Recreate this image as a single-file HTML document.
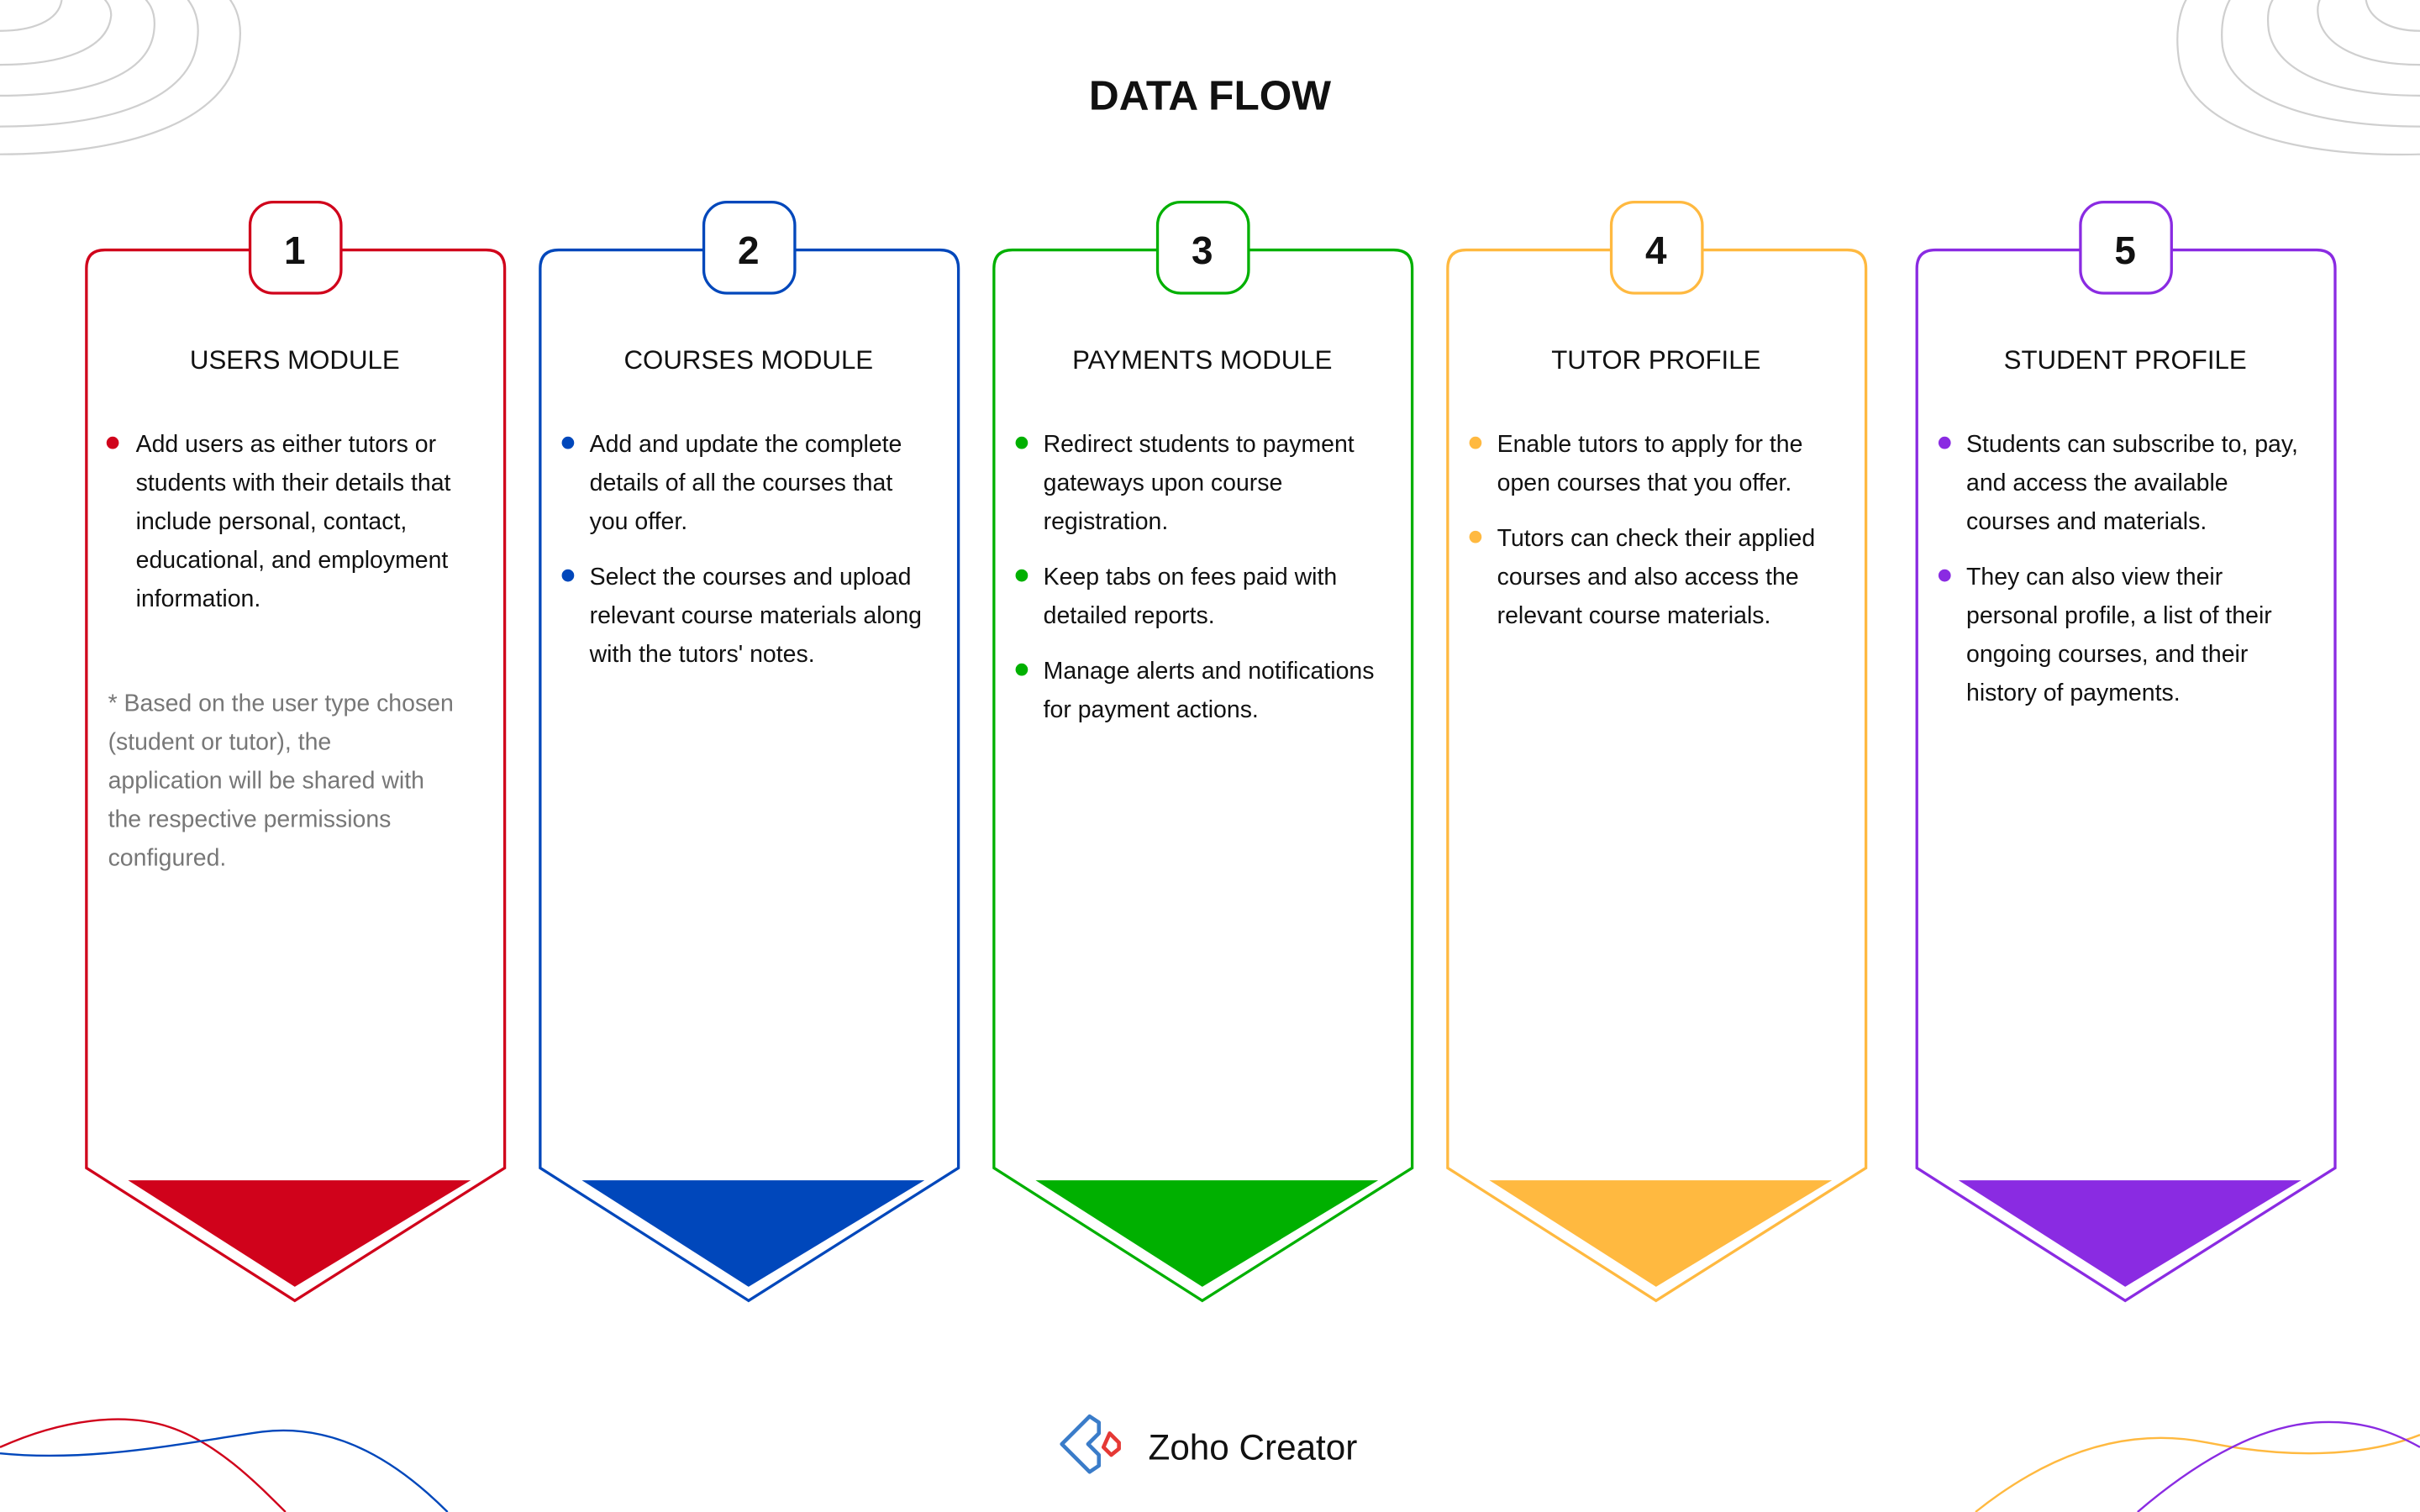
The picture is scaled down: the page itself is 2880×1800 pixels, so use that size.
<!DOCTYPE html>
<html><head><meta charset="utf-8"><style>
html,body{margin:0;padding:0;background:#fff;}
svg{display:block;}
text{font-family:"Liberation Sans",sans-serif;}
</style></head><body>
<svg width="2880" height="1800" viewBox="0 0 1568 980" xmlns="http://www.w3.org/2000/svg">
<rect width="1568" height="980" fill="#fff"/>
<!-- decorative corners -->
<g fill="none" stroke="#cfcfcf" stroke-width="1.2">
<path d="M0 100 C80 100 150 80 155 30 C158 10 150 0 145 -5"/>
<path d="M0 82 C70 82 125 65 128 25 C130 8 122 0 118 -5"/>
<path d="M0 62 C55 62 98 50 100 18 C101 5 95 0 90 -5"/>
<path d="M0 42 C40 42 70 32 72 10 C72 3 68 0 64 -5"/>
<path d="M0 20 C20 20 38 14 40 0"/>
<path d="M1568 100 C1490 102 1420 85 1412 40 C1408 15 1415 0 1420 -5"/>
<path d="M1568 82 C1500 82 1445 65 1440 30 C1438 10 1444 0 1448 -5"/>
<path d="M1568 62 C1515 62 1475 48 1470 20 C1468 5 1472 0 1476 -5"/>
<path d="M1568 42 C1530 42 1505 30 1502 10 C1501 3 1503 0 1505 -5"/>
<path d="M1568 20 C1548 20 1535 12 1533 0"/>
</g>
<g fill="none" stroke-width="1.3">
<path d="M0 938 C40 920 80 915 110 925 C140 935 165 960 185 980" stroke="#d0021b"/>
<path d="M0 942 C60 948 120 935 170 928 C220 922 260 950 290 980" stroke="#0047bb"/>
<path d="M1280 980 C1330 940 1380 925 1430 935 C1480 945 1530 945 1568 930" stroke="#ffb940"/>
<path d="M1385 980 C1420 950 1460 925 1500 922 C1530 920 1550 928 1568 938" stroke="#8a2be2"/>
</g>
<text x="784" y="71" text-anchor="middle" font-size="27" font-weight="bold" fill="#111">DATA FLOW</text>

<!-- card template via groups -->
<g id="cards" stroke-width="1.8" fill="none">
<path d="M68 162 H162 M221 162 H315 Q327 162 327 174 V757 L191 843 L56 757 V174 Q56 162 68 162" stroke="#d0021b"/>
<rect x="162" y="131" width="59" height="59" rx="15" stroke="#d0021b" fill="#fff"/>
<path d="M83 765 H305 L191 834 Z" fill="#d0021b" stroke="none"/>

<path d="M362 162 H456 M515 162 H609 Q621 162 621 174 V757 L485 843 L350 757 V174 Q350 162 362 162" stroke="#0047bb"/>
<rect x="456" y="131" width="59" height="59" rx="15" stroke="#0047bb" fill="#fff"/>
<path d="M377 765 H599 L485 834 Z" fill="#0047bb" stroke="none"/>

<path d="M656 162 H750 M809 162 H903 Q915 162 915 174 V757 L779 843 L644 757 V174 Q644 162 656 162" stroke="#00b000"/>
<rect x="750" y="131" width="59" height="59" rx="15" stroke="#00b000" fill="#fff"/>
<path d="M671 765 H893 L779 834 Z" fill="#00b000" stroke="none"/>

<path d="M950 162 H1044 M1103 162 H1197 Q1209 162 1209 174 V757 L1073 843 L938 757 V174 Q938 162 950 162" stroke="#ffb940"/>
<rect x="1044" y="131" width="59" height="59" rx="15" stroke="#ffb940" fill="#fff"/>
<path d="M965 765 H1187 L1073 834 Z" fill="#ffb940" stroke="none"/>

<path d="M1254 162 H1348 M1407 162 H1501 Q1513 162 1513 174 V757 L1377 843 L1242 757 V174 Q1242 162 1254 162" stroke="#8a2be2"/>
<rect x="1348" y="131" width="59" height="59" rx="15" stroke="#8a2be2" fill="#fff"/>
<path d="M1269 765 H1491 L1377 834 Z" fill="#8a2be2" stroke="none"/>
</g>

<g font-size="25" font-weight="bold" fill="#111" text-anchor="middle">
<text x="191" y="171">1</text><text x="485" y="171">2</text><text x="779" y="171">3</text><text x="1073" y="171">4</text><text x="1377" y="171">5</text>
</g>
<g font-size="17" fill="#111" text-anchor="middle">
<text x="191" y="239">USERS MODULE</text>
<text x="485" y="239">COURSES MODULE</text>
<text x="779" y="239">PAYMENTS MODULE</text>
<text x="1073" y="239">TUTOR PROFILE</text>
<text x="1377" y="239">STUDENT PROFILE</text>
</g>

<g font-size="15.5" fill="#111">
<circle cx="73" cy="287" r="4" fill="#d0021b"/>
<text x="88" y="293">Add users as either tutors or</text>
<text x="88" y="318">students with their details that</text>
<text x="88" y="343">include personal, contact,</text>
<text x="88" y="368">educational, and employment</text>
<text x="88" y="393">information.</text>
<g fill="#777">
<text x="70" y="461">* Based on the user type chosen</text>
<text x="70" y="486">(student or tutor), the</text>
<text x="70" y="511">application will be shared with</text>
<text x="70" y="536">the respective permissions</text>
<text x="70" y="561">configured.</text>
</g>

<circle cx="368" cy="287" r="4" fill="#0047bb"/>
<text x="382" y="293">Add and update the complete</text>
<text x="382" y="318">details of all the courses that</text>
<text x="382" y="343">you offer.</text>
<circle cx="368" cy="373" r="4" fill="#0047bb"/>
<text x="382" y="379">Select the courses and upload</text>
<text x="382" y="404">relevant course materials along</text>
<text x="382" y="429">with the tutors' notes.</text>

<circle cx="662" cy="287" r="4" fill="#00b000"/>
<text x="676" y="293">Redirect students to payment</text>
<text x="676" y="318">gateways upon course</text>
<text x="676" y="343">registration.</text>
<circle cx="662" cy="373" r="4" fill="#00b000"/>
<text x="676" y="379">Keep tabs on fees paid with</text>
<text x="676" y="404">detailed reports.</text>
<circle cx="662" cy="434" r="4" fill="#00b000"/>
<text x="676" y="440">Manage alerts and notifications</text>
<text x="676" y="465">for payment actions.</text>

<circle cx="956" cy="287" r="4" fill="#ffb940"/>
<text x="970" y="293">Enable tutors to apply for the</text>
<text x="970" y="318">open courses that you offer.</text>
<circle cx="956" cy="348" r="4" fill="#ffb940"/>
<text x="970" y="354">Tutors can check their applied</text>
<text x="970" y="379">courses and also access the</text>
<text x="970" y="404">relevant course materials.</text>

<circle cx="1260" cy="287" r="4" fill="#8a2be2"/>
<text x="1274" y="293">Students can subscribe to, pay,</text>
<text x="1274" y="318">and access the available</text>
<text x="1274" y="343">courses and materials.</text>
<circle cx="1260" cy="373" r="4" fill="#8a2be2"/>
<text x="1274" y="379">They can also view their</text>
<text x="1274" y="404">personal profile, a list of their</text>
<text x="1274" y="429">ongoing courses, and their</text>
<text x="1274" y="454">history of payments.</text>
</g>

<!-- logo -->
<g fill="none" stroke-width="2.5" stroke-linejoin="round">
<path d="M706 918 L688 936 L706 954 L712 950 L712 943 L705 936 L712 929 L712 922 Z" stroke="#3a7cc9"/>
<path d="M719 929 L725 935 L725 939 L720 943 L715 938 Z" stroke="#e53935"/>
</g>
<text x="744" y="946" font-size="23" fill="#111">Zoho Creator</text>
</svg>
</body></html>
